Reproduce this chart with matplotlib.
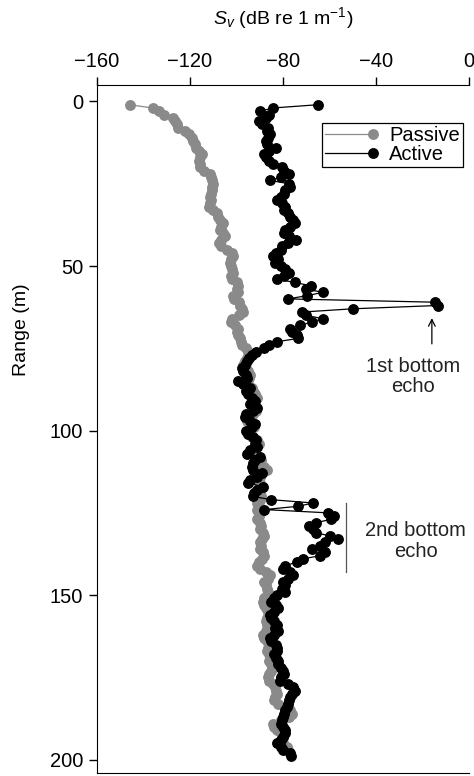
import numpy as np
import matplotlib
matplotlib.use("Agg")
import matplotlib.pyplot as plt
from matplotlib.legend_handler import HandlerLine2D
from matplotlib.lines import Line2D

plt.rcParams['font.family'] = ['Liberation Sans', 'DejaVu Sans']
plt.rcParams['mathtext.fontset'] = 'custom'
plt.rcParams['mathtext.rm'] = 'Liberation Sans'
plt.rcParams['mathtext.it'] = 'Liberation Sans:italic'

# Passive Sv (dB) for range 1..197 m
passive = [
    -146, -136, -133.5, -131, -127.5, -126.5, -125.5, -125, -122, -120.5,
    -119, -118.5, -118, -117.5, -116, -115, -115.5, -116, -115.5, -115.5,
    -114, -111.5, -111, -110.5, -110, -110.5, -110.5, -111, -111.5, -111,
    -111.5, -112, -110, -108.5, -108, -107, -106, -106.5, -107, -106,
    -105, -106.5, -107.5, -106.5, -104, -102, -101.5, -102.5, -103, -102.5,
    -102, -101.5, -102.5, -102, -100, -99.5, -100, -99.5, -101.5, -101,
    -99, -98.5, -97.5, -97, -99, -102, -102.5, -100.5, -99.5, -100,
    -99.5, -98.5, -98, -97.5, -96, -95, -94, -95.5, -96.5, -97,
    -96, -95, -94, -94.5, -96, -95, -93.5, -93, -92, -91,
    -92.5, -93, -92, -91.5, -93, -94.5, -95.5, -93, -92.5, -94,
    -95, -93.5, -91, -90.5, -92, -93, -92.5, -90.5, -89.5, -90,
    -88, -87, -89, -90, -91, -90, -89, -90.5, -90, -89.5,
    -90, -91, -90.5, -91, -90, -90.5, -91, -90, -89.5, -90,
    -88.5, -88, -89, -90, -89.5, -90, -88.5, -88, -89, -90.5,
    -91, -90, -87.5, -85.5, -86.5, -88, -87.5, -87, -86.5, -87,
    -88, -88.5, -88, -87.5, -86.5, -86, -87, -87.5, -87, -86.5,
    -87.5, -88.5, -88, -87, -86, -86.5, -87, -86, -85.5, -86,
    -85, -84.5, -85, -86, -86.5, -86, -84.5, -83.5, -83, -82.5,
    -83.5, -84, -82, -79, -77, -76, -77.5, -81, -84.5, -84,
    -82.5, -81, -80, -81, -80, -78.5, -78,
]

# Active Sv (dB) for range 1..199 m
active = [
    -65, -84.5, -90, -86, -87.5, -90.5, -89, -86.5, -87, -85.5,
    -86.5, -87.5, -87, -83, -86, -88, -87.5, -86, -84.5, -80.5,
    -79.5, -77.5, -81, -85.5, -77.5, -77, -79, -79.5, -81, -82.5,
    -80.5, -79, -79.5, -78, -77, -75.5, -75, -77, -79, -79.5,
    -77.5, -74.5, -78, -80.5, -81, -83, -84.5, -82, -83.5, -81,
    -79, -77.5, -79.5, -82.5, -75, -68, -70, -63, -69.5, -78,
    -14.5, -13.5, -50, -72, -70, -63, -67.5, -72.5, -77, -76,
    -74, -73.5, -82.5, -86, -88, -91.5, -93.5, -94.5, -95.5, -96.5,
    -97.5, -97, -96, -95.5, -99.5, -97, -94, -96, -95, -93.5,
    -92, -94, -91, -93, -96, -96.5, -94, -92, -93.5, -96,
    -95, -93, -91.5, -92, -91, -94, -95.5, -90, -92, -93,
    -93.5, -93, -89, -91, -94, -95, -88.5, -91, -92.5, -93,
    -85, -67, -73.5, -88, -60.5, -58, -59.5, -66, -69, -67,
    -66, -60, -56.5, -62, -64, -67.5, -62, -64, -71.5, -74,
    -79, -80, -77, -75.5, -78, -80, -79, -80.5, -79, -82.5,
    -84, -85, -83, -82, -84, -85.5, -85, -84, -82.5, -83.5,
    -82, -84, -85.5, -85, -83, -82.5, -82.5, -84, -83, -82,
    -82, -81, -80, -79.5, -81, -81.5, -78, -75.5, -75, -76,
    -77, -77.5, -78, -78.5, -79, -79.5, -80, -80.5, -81, -80,
    -79, -79, -80, -81, -82.5, -81, -80, -77, -76.5,
]

range_passive = np.arange(1, len(passive) + 1)
range_active = np.arange(1, len(active) + 1)


class MarkerAtEnd(HandlerLine2D):
    # legend handle: short line with the marker sitting at its right end
    def create_artists(self, legend, orig_handle, xdescent, ydescent,
                       width, height, fontsize, trans):
        y = height / 2 - ydescent
        x0, x1 = -xdescent, -xdescent + width
        line = Line2D([x0, x1], [y, y], color=orig_handle.get_color(),
                      lw=orig_handle.get_linewidth())
        mark = Line2D([x1], [y], ls='', marker='o', color=orig_handle.get_color(),
                      ms=orig_handle.get_markersize())
        line.set_transform(trans)
        mark.set_transform(trans)
        return [line, mark]


fig = plt.figure(figsize=(4.74, 7.76), dpi=100)
ax = fig.add_axes([0.2046, 0.004, 0.785, 0.8865])

ax.plot(passive, range_passive, '-o', color='#8a8a8a', ms=6.8, lw=0.9, label='Passive')
ax.plot(active, range_active, '-o', color='black', ms=6.8, lw=0.9, label='Active')

ax.set_xlim(-160, 0)
ax.set_ylim(204, -5)
ax.xaxis.tick_top()
ax.xaxis.set_label_position('top')
ax.set_xticks([-160, -120, -80, -40, 0])
ax.set_yticks([0, 50, 100, 150, 200])
ax.tick_params(direction='out', length=6, width=1, labelsize=14.5, pad=4)
ax.spines['right'].set_visible(False)
ax.set_xlabel(r'$S_v$ (dB re 1 m$^{-1}$)', fontsize=14, labelpad=20)
ax.set_ylabel('Range (m)', fontsize=14)
ax.yaxis.set_label_coords(-0.18, 0.644)

ax.annotate('', xy=(-16, 65), xytext=(-16, 74.5),
            arrowprops=dict(arrowstyle='->', lw=0.9, color='black', mutation_scale=12))
ax.text(-24, 83.5, '1st bottom\necho', ha='center', va='center', fontsize=14.5,
        color='#222222', linespacing=1.1)
ax.plot([-53, -53], [122, 143], color='#555555', lw=0.9)
ax.text(-23, 133.6, '2nd bottom\necho', ha='center', va='center', fontsize=14.5,
        color='#222222', linespacing=1.1)

h, l = ax.get_legend_handles_labels()
leg = ax.legend(h, l, loc='upper right', bbox_to_anchor=(0.984, 0.945), fontsize=14.5,
                frameon=True, fancybox=False, edgecolor='black', framealpha=1,
                handlelength=2.4, borderpad=0.15, labelspacing=0.0, handletextpad=0.8,
                borderaxespad=0, handler_map={Line2D: MarkerAtEnd()})
leg.get_frame().set_linewidth(0.9)

fig.savefig('out.png', dpi=100)
